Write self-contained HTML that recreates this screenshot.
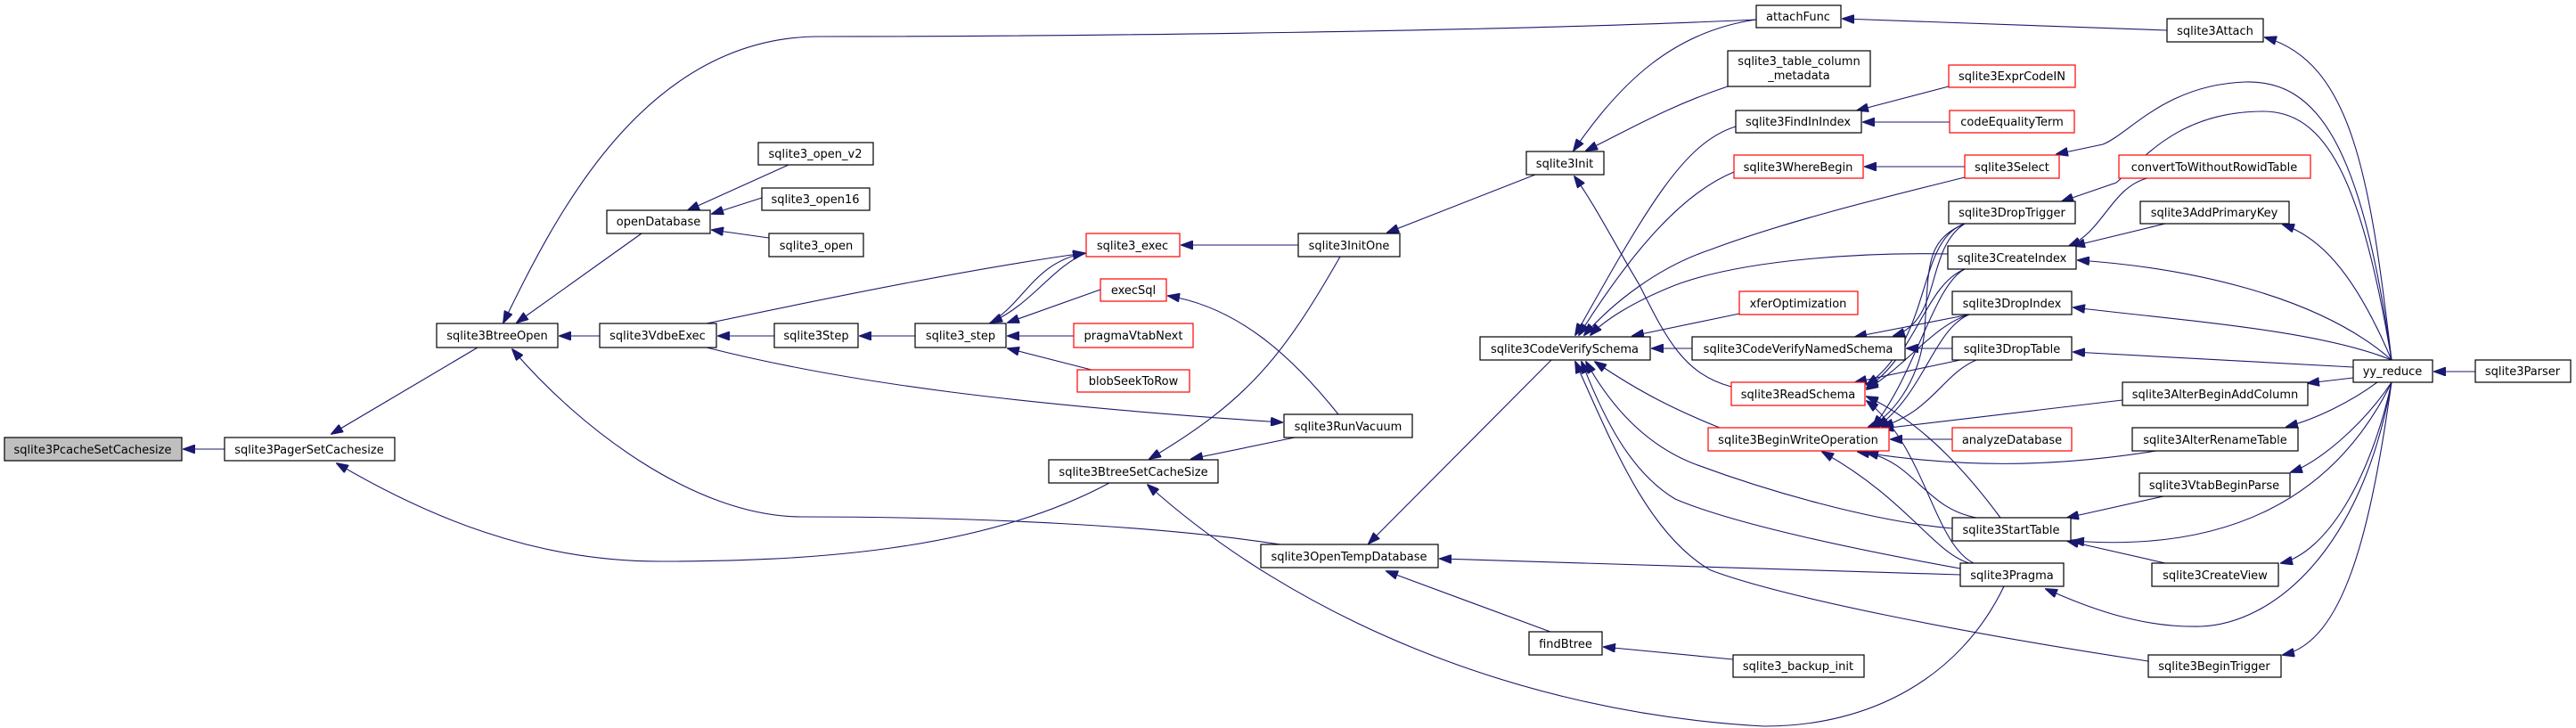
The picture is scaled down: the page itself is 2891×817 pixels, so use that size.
<!DOCTYPE html>
<html><head><meta charset="utf-8"><style>
html,body{margin:0;padding:0;background:#fff;}
svg{display:block;}
text{font-family:"DejaVu Sans","Liberation Sans",sans-serif;font-size:13px;fill:#000;text-anchor:middle;}
.n{fill:#fff;stroke:#000;stroke-width:1.2;}
.r{fill:#fff;stroke:#ff0000;stroke-width:1.2;}
.g{fill:#bfbfbf;stroke:#000;stroke-width:1.2;}
path{fill:none;stroke:#191970;stroke-width:1.1;marker-end:url(#a);}
</style></head><body>
<svg width="2891" height="817" viewBox="0 0 2891 817" xmlns="http://www.w3.org/2000/svg">
<defs><marker id="a" markerUnits="userSpaceOnUse" markerWidth="14" markerHeight="10" refX="13" refY="5" orient="auto"><polygon points="0,0 14,5 0,10" fill="#191970" stroke="#191970"/></marker></defs>
<!-- edges -->
<path d="M252,504 L206,504"/>
<path d="M536,390 L372,487"/>
<path d="M1245,542 C1100,620 900,630 740,630 C600,630 480,580 378,520"/>
<path d="M1971,22 C1700,35 1200,41 920,41 C720,41 620,250 565,362"/>
<path d="M720,262 L580,362"/>
<path d="M673,377 L628,377"/>
<path d="M1437,611 C1300,590 1100,580 900,580 C780,580 650,480 575,392"/>
<path d="M885,185 L772,236"/>
<path d="M855,222 L799,240"/>
<path d="M863,267 L799,258"/>
<path d="M869,377 L806,377"/>
<path d="M793,363 C950,330 1100,300 1217,284"/>
<path d="M1110,363 C1150,340 1160,295 1217,284"/>
<path d="M1219,284 C1180,300 1160,340 1112,362"/>
<path d="M793,390 C950,430 1150,455 1439,474"/>
<path d="M1027,377 L965,377"/>
<path d="M1235,325 L1131,362"/>
<path d="M1205,377 L1131,377"/>
<path d="M1225,415 L1131,391"/>
<path d="M1457,275 L1326,275"/>
<path d="M1502,465 C1450,400 1390,345 1311,332"/>
<path d="M1504,288 C1440,400 1400,450 1290,515"/>
<path d="M1453,491 L1337,515"/>
<path d="M1723,196 L1557,261"/>
<path d="M1971,22 C1880,35 1820,90 1766,169"/>
<path d="M1939,97 C1870,120 1820,150 1780,169"/>
<path d="M1943,434 C1890,420 1870,380 1840,320 C1810,270 1790,230 1767,198"/>
<path d="M2249,658 C2200,760 2100,815 1980,815 C1700,800 1450,690 1288,544"/>
<path d="M1741,404 L1536,610"/>
<path d="M2200,645 L1616,627"/>
<path d="M1740,709 L1556,641"/>
<path d="M1945,740 L1800,726"/>
<path d="M1948,142 C1890,160 1850,230 1768,376"/>
<path d="M1946,193 C1880,220 1820,300 1772,376"/>
<path d="M2205,199 C2100,225 2000,250 1920,280 C1860,300 1810,340 1778,376"/>
<path d="M2186,285 C2100,283 1960,290 1880,320 C1830,340 1800,360 1785,376"/>
<path d="M1952,352 L1832,377"/>
<path d="M1899,391 L1854,391"/>
<path d="M1930,480 C1880,460 1840,440 1790,406"/>
<path d="M2191,593 C2100,585 1980,550 1900,520 C1850,500 1810,460 1780,406"/>
<path d="M2200,638 C2100,620 1950,590 1880,560 C1830,530 1800,470 1775,406"/>
<path d="M2411,742 C2200,710 2000,670 1920,640 C1850,600 1810,500 1768,406"/>
<path d="M2187,97 L2084,124"/>
<path d="M2188,137 L2091,137"/>
<path d="M2205,187 L2093,187"/>
<path d="M2432,34 L2068,21"/>
<path d="M2410,200 C2370,210 2360,260 2322,276"/>
<path d="M2430,251 L2327,276"/>
<path d="M2205,251 C2160,280 2180,360 2125,377"/>
<path d="M2210,353 L2082,378"/>
<path d="M2191,391 L2140,391"/>
<path d="M2205,251 C2150,270 2170,380 2095,432"/>
<path d="M2205,302 C2160,320 2150,400 2095,435"/>
<path d="M2210,353 C2170,365 2140,410 2095,437"/>
<path d="M2200,404 L2082,429"/>
<path d="M2245,581 C2200,520 2150,470 2095,445"/>
<path d="M2215,632 C2170,610 2160,500 2095,450"/>
<path d="M2205,251 C2160,270 2165,300 2160,370 C2155,430 2120,470 2097,479"/>
<path d="M2205,302 C2170,320 2150,420 2102,479"/>
<path d="M2210,353 C2170,370 2160,440 2107,479"/>
<path d="M2218,404 C2180,420 2170,460 2112,479"/>
<path d="M2382,449 L2112,481"/>
<path d="M2191,493 L2122,493"/>
<path d="M2420,506 C2300,525 2200,525 2085,507"/>
<path d="M2218,581 C2160,570 2150,520 2095,508"/>
<path d="M2210,632 C2170,620 2140,560 2045,507"/>
<path d="M2428,557 L2320,581"/>
<path d="M2430,632 L2320,607"/>
<path d="M2778,417 L2732,417"/>
<path d="M2684,404 C2660,200 2640,70 2542,42"/>
<path d="M2684,404 C2650,160 2600,90 2520,92 C2430,95 2390,150 2360,162 L2308,173"/>
<path d="M2684,404 C2650,200 2610,125 2540,125 C2440,125 2400,185 2375,205 L2314,226"/>
<path d="M2684,404 C2640,300 2600,265 2562,252"/>
<path d="M2684,404 C2600,330 2450,300 2332,292"/>
<path d="M2684,404 C2600,370 2450,360 2327,345"/>
<path d="M2641,412 L2327,395"/>
<path d="M2641,424 L2590,430"/>
<path d="M2668,429 C2640,450 2600,470 2566,479"/>
<path d="M2684,429 C2650,480 2600,520 2571,530"/>
<path d="M2684,429 C2620,560 2500,620 2326,607"/>
<path d="M2684,429 C2660,540 2610,620 2560,632"/>
<path d="M2684,429 C2650,620 2550,700 2470,703 C2400,705 2340,680 2296,661"/>
<path d="M2684,429 C2660,600 2630,720 2562,735"/>
<!-- nodes -->
<g>
<rect class="g" x="5" y="491" width="199" height="26"/><text x="104" y="509">sqlite3PcacheSetCachesize</text>
<rect class="n" x="252" y="491" width="191" height="26"/><text x="347" y="509">sqlite3PagerSetCachesize</text>
<rect class="n" x="490" y="363" width="136" height="27"/><text x="558" y="381">sqlite3BtreeOpen</text>
<rect class="n" x="681" y="236" width="116" height="26"/><text x="739" y="253">openDatabase</text>
<rect class="n" x="851" y="160" width="129" height="25"/><text x="915" y="177">sqlite3_open_v2</text>
<rect class="n" x="855" y="211" width="121" height="25"/><text x="915" y="228">sqlite3_open16</text>
<rect class="n" x="863" y="262" width="106" height="26"/><text x="916" y="280">sqlite3_open</text>
<rect class="n" x="673" y="363" width="131" height="27"/><text x="738" y="381">sqlite3VdbeExec</text>
<rect class="n" x="869" y="363" width="94" height="27"/><text x="916" y="381">sqlite3Step</text>
<rect class="n" x="1027" y="363" width="102" height="27"/><text x="1078" y="381">sqlite3_step</text>
<rect class="r" x="1219" y="262" width="105" height="26"/><text x="1271" y="280">sqlite3_exec</text>
<rect class="r" x="1235" y="313" width="74" height="25"/><text x="1272" y="330">execSql</text>
<rect class="r" x="1205" y="363" width="134" height="27"/><text x="1272" y="381">pragmaVtabNext</text>
<rect class="r" x="1209" y="415" width="126" height="25"/><text x="1272" y="432">blobSeekToRow</text>
<rect class="n" x="1457" y="262" width="114" height="26"/><text x="1514" y="280">sqlite3InitOne</text>
<rect class="n" x="1441" y="465" width="144" height="26"/><text x="1513" y="483">sqlite3RunVacuum</text>
<rect class="n" x="1177" y="516" width="190" height="26"/><text x="1272" y="534">sqlite3BtreeSetCacheSize</text>
<rect class="n" x="1415" y="611" width="199" height="26"/><text x="1514" y="629">sqlite3OpenTempDatabase</text>
<rect class="n" x="1716" y="709" width="82" height="26"/><text x="1757" y="727">findBtree</text>
<rect class="n" x="1713" y="170" width="87" height="26"/><text x="1756" y="188">sqlite3Init</text>
<rect class="n" x="1661" y="378" width="191" height="26"/><text x="1756" y="396">sqlite3CodeVerifySchema</text>
<rect class="n" x="1971" y="6" width="95" height="25"/><text x="2018" y="23">attachFunc</text>
<rect class="n" x="2432" y="21" width="108" height="26"/><text x="2486" y="39">sqlite3Attach</text>
<rect class="n" x="1939" y="57" width="160" height="40"/><text x="2019" y="73">sqlite3_table_column</text><text x="2019" y="89">_metadata</text>
<rect class="r" x="2187" y="73" width="142" height="25"/><text x="2258" y="90">sqlite3ExprCodeIN</text>
<rect class="n" x="1948" y="124" width="141" height="25"/><text x="2018" y="141">sqlite3FindInIndex</text>
<rect class="r" x="2188" y="124" width="140" height="25"/><text x="2258" y="141">codeEqualityTerm</text>
<rect class="r" x="1946" y="174" width="145" height="26"/><text x="2018" y="192">sqlite3WhereBegin</text>
<rect class="r" x="2205" y="174" width="106" height="26"/><text x="2258" y="192">sqlite3Select</text>
<rect class="r" x="2378" y="174" width="215" height="26"/><text x="2485" y="192">convertToWithoutRowidTable</text>
<rect class="n" x="2187" y="226" width="142" height="25"/><text x="2258" y="243">sqlite3DropTrigger</text>
<rect class="n" x="2402" y="226" width="167" height="25"/><text x="2485" y="243">sqlite3AddPrimaryKey</text>
<rect class="n" x="2186" y="276" width="144" height="26"/><text x="2258" y="294">sqlite3CreateIndex</text>
<rect class="r" x="1952" y="327" width="133" height="26"/><text x="2018" y="345">xferOptimization</text>
<rect class="n" x="2191" y="327" width="134" height="26"/><text x="2258" y="345">sqlite3DropIndex</text>
<rect class="n" x="1899" y="378" width="239" height="26"/><text x="2018" y="396">sqlite3CodeVerifyNamedSchema</text>
<rect class="n" x="2191" y="378" width="134" height="26"/><text x="2258" y="396">sqlite3DropTable</text>
<rect class="n" x="2641" y="404" width="89" height="25"/><text x="2685" y="421">yy_reduce</text>
<rect class="n" x="2778" y="404" width="107" height="25"/><text x="2831" y="421">sqlite3Parser</text>
<rect class="r" x="1943" y="429" width="150" height="26"/><text x="2018" y="447">sqlite3ReadSchema</text>
<rect class="n" x="2382" y="429" width="208" height="26"/><text x="2486" y="447">sqlite3AlterBeginAddColumn</text>
<rect class="r" x="1917" y="480" width="203" height="26"/><text x="2018" y="498">sqlite3BeginWriteOperation</text>
<rect class="r" x="2191" y="480" width="134" height="26"/><text x="2258" y="498">analyzeDatabase</text>
<rect class="n" x="2393" y="480" width="186" height="26"/><text x="2486" y="498">sqlite3AlterRenameTable</text>
<rect class="n" x="2401" y="531" width="169" height="26"/><text x="2485" y="549">sqlite3VtabBeginParse</text>
<rect class="n" x="2191" y="581" width="133" height="26"/><text x="2257" y="599">sqlite3StartTable</text>
<rect class="n" x="2200" y="632" width="116" height="26"/><text x="2258" y="650">sqlite3Pragma</text>
<rect class="n" x="2415" y="632" width="142" height="26"/><text x="2486" y="650">sqlite3CreateView</text>
<rect class="n" x="1945" y="735" width="147" height="25"/><text x="2018" y="752">sqlite3_backup_init</text>
<rect class="n" x="2411" y="735" width="149" height="25"/><text x="2485" y="752">sqlite3BeginTrigger</text>
</g>
</svg>
</body></html>
